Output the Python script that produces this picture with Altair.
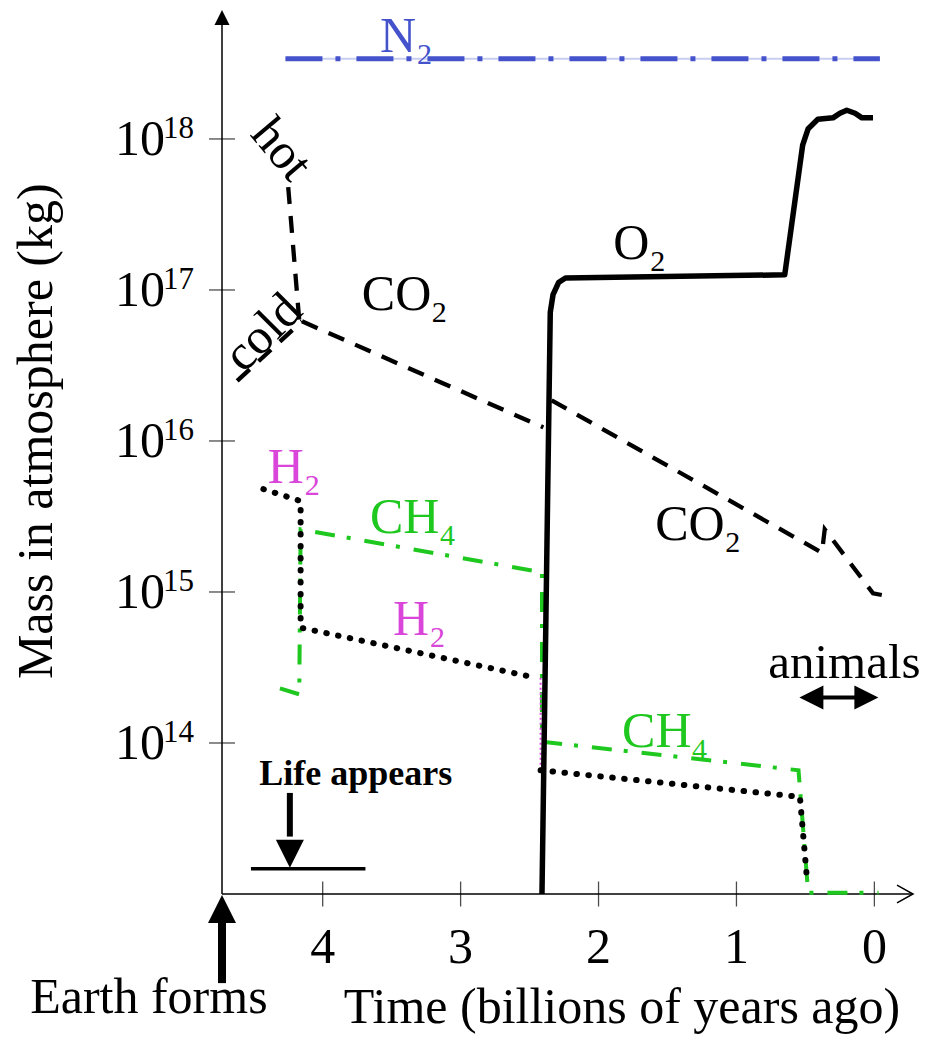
import altair as alt
import pandas as pd

# ---------------- data (time: billions of years ago, mass: kg) ----------------
N2_t = [4.27, -0.04]
N2_m = [3.4e18, 3.4e18]

O2_t = [2.41, 2.35, 2.33, 2.29, 2.24, 0.65, 0.52, 0.48, 0.41, 0.30, 0.25, 0.20, 0.14, 0.09, 0.01]
O2_m = [1.0e13, 7.1e16, 9.3e16, 1.12e17, 1.2e17, 1.26e17, 9.1e17, 1.17e18, 1.35e18,
        1.38e18, 1.48e18, 1.55e18, 1.48e18, 1.38e18, 1.38e18]

CO2_hot_t = [4.25, 4.17]
CO2_hot_m = [4.8e17, 6.3e16]
CO2_cold_t = [4.62, 4.15]
CO2_cold_m = [2.5e16, 6.2e16]
CO2_early_t = [4.15, 2.40]
CO2_early_m = [6.2e16, 1.23e16]
CO2_late_t = [2.34, 0.38, 0.36, 0.01, -0.12]
CO2_late_m = [1.86e16, 1.82e15, 2.6e15, 9.8e14, 9.3e14]

H2_early_t = [4.43, 4.16, 4.16, 2.45]
H2_early_m = [4.8e15, 4.0e15, 5.8e14, 2.7e14]
H2_drop_t = [2.42, 2.42]
H2_drop_m = [2.7e14, 6.6e13]
H2_late_t = [2.42, 0.54, 0.49]
H2_late_m = [6.6e13, 4.4e13, 1.3e13]

CH4_t = [4.31, 4.17, 4.16, 2.41, 2.41, 0.55, 0.48, -0.03]
CH4_m = [2.3e14, 2.1e14, 2.6e15, 1.35e15, 1.02e14, 6.6e13, 1.02e13, 1.02e13]

x_tick_values = [4, 3, 2, 1, 0]
y_exponents = [14, 15, 16, 17, 18]

# formula labels: main text, subscript, colour
formula_main = ["N", "CO", "O", "H", "CH", "H", "CO", "CH"]
formula_sub = ["2", "2", "2", "2", "4", "2", "2", "4"]
formula_color = ["#4452cc", "black", "black", "#d946d9", "#1ec81e", "#d946d9", "black", "#1ec81e"]
formula_t = [3.585, 3.716, 1.894, 4.398, 3.657, 3.491, 1.589, 1.829]
formula_m = [3.77e18, 7.4e16, 1.6e17, 5.3e15, 2.46e15, 5.2e14, 2.2e15, 9.4e13]

# axis extents
X_MIN, X_MAX = -0.28, 4.73
Y_MIN, Y_MAX = 1e13, 10 ** 18.854

FONT = "Liberation Serif"
BLUE = "#4452cc"
GREEN = "#1ec81e"
MAGENTA = "#d946d9"

xs = alt.Scale(domain=[X_MIN, X_MAX], reverse=True, nice=False, zero=False)
ys = alt.Scale(type="log", domain=[Y_MIN, Y_MAX], nice=False)


def X(field="t"):
    return alt.X(f"{field}:Q", scale=xs, axis=None)


def Y(field="m"):
    return alt.Y(f"{field}:Q", scale=ys, axis=None)


def line(ts, ms, color, width, dash=None, cap="butt", join="miter"):
    df = pd.DataFrame({"t": ts, "m": ms, "i": list(range(len(ts)))})
    kw = dict(color=color, strokeWidth=width, strokeCap=cap, strokeJoin=join)
    if dash:
        kw["strokeDash"] = dash
    return alt.Chart(df).mark_line(**kw).encode(x=X(), y=Y(), order="i:Q")


def text(rows, **style):
    df = pd.DataFrame(rows)
    return alt.Chart(df).mark_text(font=FONT, **style).encode(x=X(), y=Y(), text="label:N")


def symbol(t, m, path, size, filled=True, color="black", sw=1.5):
    df = pd.DataFrame({"t": [t], "m": [m]})
    kw = dict(shape=path, size=size, color=color, opacity=1)
    if filled:
        kw.update(filled=True, strokeWidth=0)
    else:
        kw.update(filled=False, strokeWidth=sw)
    return alt.Chart(df).mark_point(**kw).encode(x=X(), y=Y())


def rule(t1, m1, t2, m2, width, color="black"):
    df = pd.DataFrame({"t": [t1], "m": [m1], "t2": [t2], "m2": [m2]})
    return alt.Chart(df).mark_rule(color=color, strokeWidth=width).encode(
        x=X(), y=Y(), x2="t2:Q", y2="m2:Q")


layers = []

# ---- axes ----
layers.append(rule(X_MAX, Y_MIN, X_MAX, 10 ** 18.8, 1.5))
layers.append(rule(X_MAX, Y_MIN, X_MIN, Y_MIN, 1.5))
layers.append(symbol(X_MAX, Y_MAX, "M0,0L0.5,1L-0.5,1Z", 900))
layers.append(symbol(X_MIN, Y_MIN, "M-1,-0.55L0,0L-1,0.55", 1024, filled=False, sw=1.5))

xt = pd.DataFrame({"t": x_tick_values, "m": [Y_MIN] * len(x_tick_values),
                   "label": [str(v) for v in x_tick_values]})
layers.append(alt.Chart(xt).mark_tick(orient="vertical", size=25, thickness=1.3, color="black")
              .encode(x=X(), y=Y()))
layers.append(alt.Chart(xt).mark_text(font=FONT, fontSize=50, align="center", baseline="alphabetic",
                                      dy=69, color="black")
              .encode(x=X(), y=Y(), text="label:N"))

yt = pd.DataFrame({"t": [X_MAX] * len(y_exponents), "m": [10.0 ** e for e in y_exponents],
                   "base": ["10"] * len(y_exponents), "exp": [str(e) for e in y_exponents]})
layers.append(alt.Chart(yt).mark_tick(orient="horizontal", size=26, thickness=1.3, color="black")
              .encode(x=X(), y=Y()))
layers.append(alt.Chart(yt).mark_text(font=FONT, fontSize=50, align="right", baseline="alphabetic",
                                      dx=-57, dy=16, color="black")
              .encode(x=X(), y=Y(), text="base:N"))
layers.append(alt.Chart(yt).mark_text(font=FONT, fontSize=31, align="left", baseline="alphabetic",
                                      dx=-59, dy=-1, color="black")
              .encode(x=X(), y=Y(), text="exp:N"))

# axis titles and annotations
layers.append(text([{"t": 1.83, "m": 1.4e12, "label": "Time (billions of years ago)"}],
                   fontSize=50, align="center", baseline="alphabetic", color="black"))
layers.append(text([{"t": 5.96, "m": 1.16e16, "label": "Mass in atmosphere (kg)"}],
                   fontSize=50, align="center", baseline="alphabetic", angle=270, color="black"))
layers.append(text([{"t": 5.26, "m": 1.63e12, "label": "Earth forms"}],
                   fontSize=50, align="center", baseline="alphabetic", color="black"))
layers.append(text([{"t": 3.76, "m": 5.3e13, "label": "Life appears"}],
                   fontSize=36, fontWeight="bold", align="center", baseline="alphabetic", color="black"))
layers.append(text([{"t": 0.77, "m": 2.7e14, "label": "animals"}],
                   fontSize=49, align="left", baseline="alphabetic", color="black"))
layers.append(text([{"t": 4.30, "m": 8.5e17, "label": "hot"}],
                   fontSize=50, align="center", baseline="middle", angle=50, color="black"))
layers.append(text([{"t": 4.43, "m": 5.2e16, "label": "cold"}],
                   fontSize=50, align="center", baseline="middle", angle=315, color="black"))

# Earth forms arrow
layers.append(rule(X_MAX, 6.5e12, X_MAX, 2.57e12, 8))
layers.append(symbol(X_MAX, 0.985e13, "M0,0L0.5,1L-0.5,1Z", 3136))
# Life appears arrow and bar
layers.append(rule(4.238, 4.67e13, 4.238, 2.4e13, 6))
layers.append(symbol(4.238, 1.49e13, "M0,0L-0.5,-1L0.5,-1Z", 3136))
layers.append(rule(4.52, 1.47e13, 3.69, 1.47e13, 3.5))
# animals double arrow
layers.append(rule(0.50, 2.0e14, 0.01, 2.0e14, 4))
layers.append(symbol(0.544, 2.0e14, "M0,0L1,-0.5L1,0.5Z", 2304))
layers.append(symbol(-0.029, 2.0e14, "M0,0L-1,-0.5L-1,0.5Z", 2304))

# ---- gas curves ----
layers.append(line(N2_t, N2_m, "#c9cdf0", 2))
layers.append(line(N2_t, N2_m, BLUE, 5, dash=[37, 13, 5, 16]))
layers.append(line(CO2_hot_t, CO2_hot_m, "black", 4.3, dash=[17, 12]))
layers.append(line(CO2_cold_t, CO2_cold_m, "black", 4.3, dash=[17, 12]))
layers.append(line(CO2_early_t, CO2_early_m, "black", 4.3, dash=[17, 12]))
layers.append(line(CO2_late_t, CO2_late_m, "black", 4.3, dash=[17, 12]))
layers.append(line(CH4_t, CH4_m, GREEN, 4, dash=[20, 12, 4, 14]))
layers.append(line(H2_drop_t, H2_drop_m, MAGENTA, 2, dash=[2, 3]))
layers.append(line(H2_early_t, H2_early_m, "black", 6, dash=[0.5, 11.5], cap="round"))
layers.append(line(H2_late_t, H2_late_m, "black", 6, dash=[0.5, 11.5], cap="round"))
layers.append(line(O2_t, O2_m, "black", 5.5, join="round"))

# ---- formula labels ----
fdf = pd.DataFrame({"t": formula_t, "m": formula_m, "main": formula_main,
                    "sub": formula_sub, "col": formula_color})
fdf["w"] = fdf["main"].str.len()
layers.append(alt.Chart(fdf).mark_text(font=FONT, fontSize=50, align="left", baseline="alphabetic")
              .encode(x=X(), y=Y(), text="main:N", color=alt.Color("col:N", scale=None)))
layers.append(alt.Chart(fdf).transform_filter("datum.w == 1")
              .mark_text(font=FONT, fontSize=30, align="left", baseline="alphabetic", dx=37, dy=12)
              .encode(x=X(), y=Y(), text="sub:N", color=alt.Color("col:N", scale=None)))
layers.append(alt.Chart(fdf).transform_filter("datum.w == 2")
              .mark_text(font=FONT, fontSize=30, align="left", baseline="alphabetic", dx=70, dy=12)
              .encode(x=X(), y=Y(), text="sub:N", color=alt.Color("col:N", scale=None)))

chart = alt.layer(*layers).properties(
    width=691, height=884,
    autosize=alt.AutoSizeParams(type="none"),
    padding={"left": 214, "top": 2, "right": 7, "bottom": 144},
    background="white",
).configure_view(stroke=None)

chart.save("out.html", embed_options={"renderer": "svg", "actions": False})
